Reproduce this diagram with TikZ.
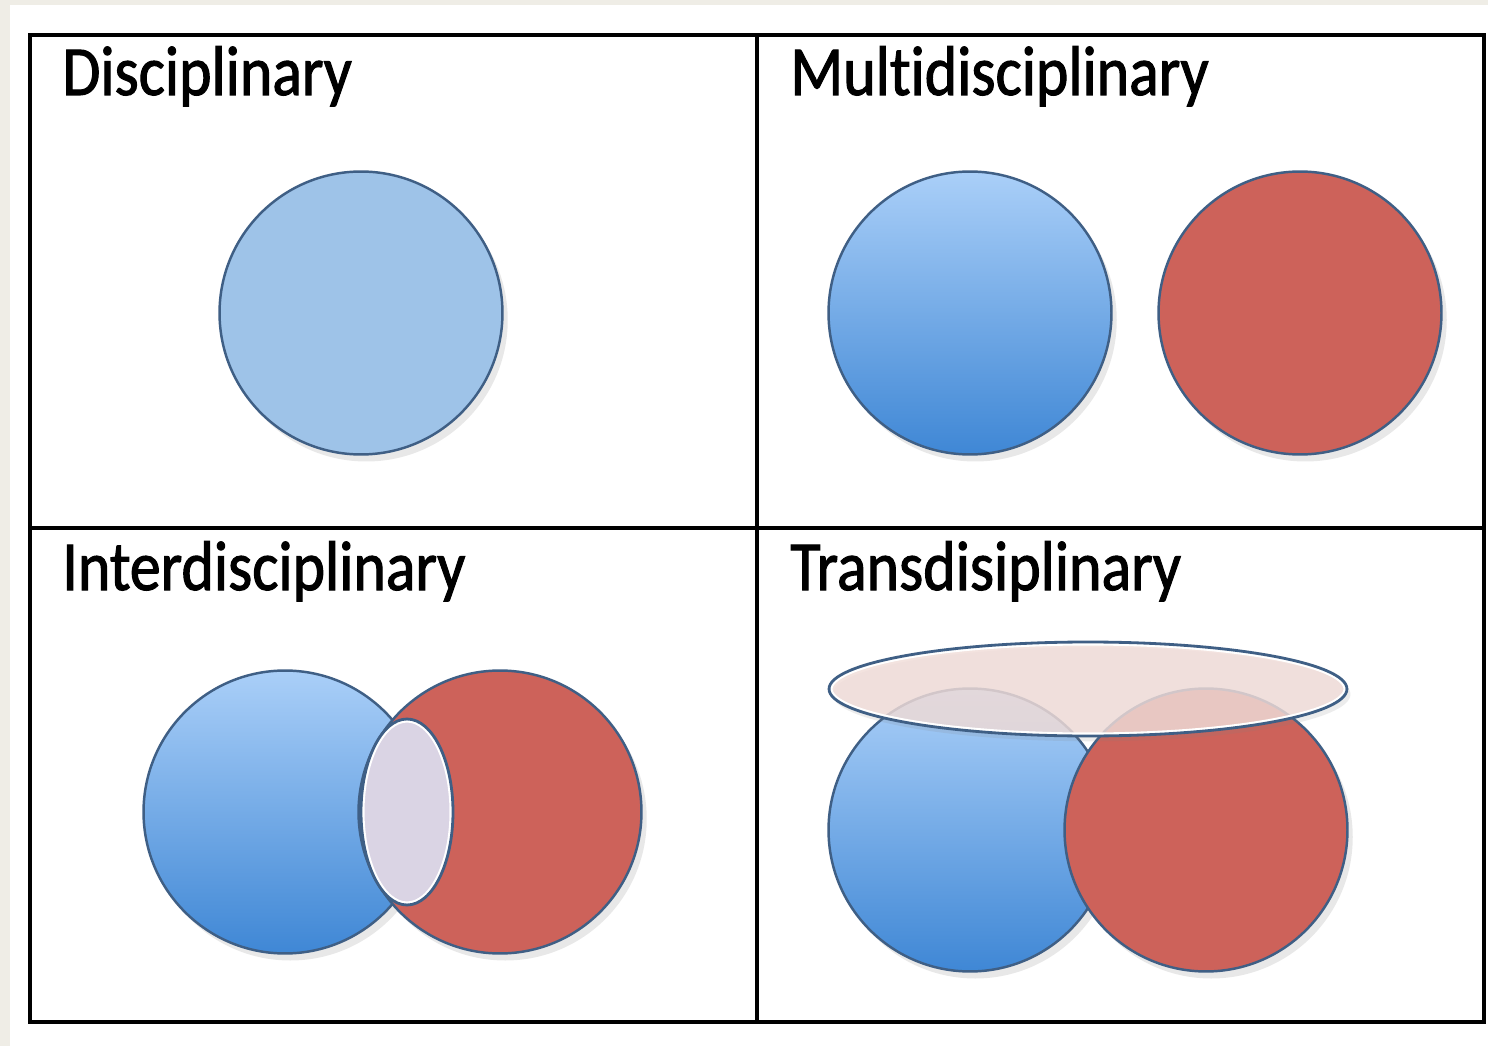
\documentclass[tikz,border=0pt]{standalone}
\usepackage{fontspec}
\setmainfont{Carlito}[Ligatures=NoCommon, FakeStretch=0.88, FakeBold=1.5]
\usetikzlibrary{shapes,shadows}
\definecolor{pagebg}{HTML}{EFEDE6}
\definecolor{edgeblue}{HTML}{3F5F85}
\definecolor{plainblue}{HTML}{9EC3E8}
\definecolor{lightblue}{HTML}{AACFF8}
\definecolor{deepblue}{HTML}{3F87D5}
\definecolor{brick}{HTML}{CD625A}
\definecolor{lens}{HTML}{DAD4E4}
\definecolor{blush}{HTML}{F1DDD9}

\begin{document}
\begin{tikzpicture}[x=0.02cm, y=0.02cm,
        disc/.style={circle, draw=edgeblue, line width=1.4pt, minimum size=5.66cm, inner sep=0pt,
            drop shadow={opacity=0.18, shadow xshift=3pt, shadow yshift=-4pt}},
        overlap/.style n args={2}{ellipse, draw=edgeblue, line width=1.6pt, inner sep=0pt,
            minimum width=2*#1, minimum height=2*#2,
            path picture={\draw[white, line width=4pt] (path picture bounding box.center)
                ellipse [x radius=#1, y radius=#2];}},
        field/.style={anchor=base west, inner sep=0pt, font=\fontsize{40}{48}\selectfont}]
        % page and table
        \fill[pagebg] (0,0) rectangle (1488,1046);
        \fill[white] (10,0) rectangle (1488,1041);
        \draw[line width=1.8pt] (30,1011) rectangle (1484,24);
        \draw[line width=1.8pt] (757,1011) -- (757,24);
        \draw[line width=1.8pt] (30,518) -- (1484,518);
        % titles
        \node[field] (DiscTitle) at (62,951) {Disciplinary};
        \node[field] (MultiTitle) at (790,951) {Multidisciplinary};
        \node[field] (InterTitle) at (62,456) {Interdisciplinary};
        \node[field] (TransTitle) at (790,456) {Transdisiplinary};
        % disciplinary
        \node[disc, fill=plainblue] (DiscBlue) at (361,733) {};
        % multidisciplinary
        \node[disc, top color=lightblue, bottom color=deepblue] (MultiBlue) at (970,733) {};
        \node[disc, fill=brick] (MultiRed) at (1300,733) {};
        % interdisciplinary
        \node[disc, top color=lightblue, bottom color=deepblue] (InterBlue) at (285,234) {};
        \node[disc, fill=brick] (InterRed) at (500,234) {};
        \node[overlap={0.92cm}{1.86cm}, fill=lens] (InterLens) at (407,234) {};
        % transdisciplinary
        \node[disc, top color=lightblue, bottom color=deepblue] (TransBlue) at (970,216) {};
        \node[disc, fill=brick] (TransRed) at (1206,216) {};
        \node[overlap={5.18cm}{0.94cm}, fill=blush, fill opacity=0.82,
            drop shadow={opacity=0.15, shadow xshift=2pt, shadow yshift=-3pt}] (TransCap) at (1088,357) {};
\end{tikzpicture}
\end{document}
